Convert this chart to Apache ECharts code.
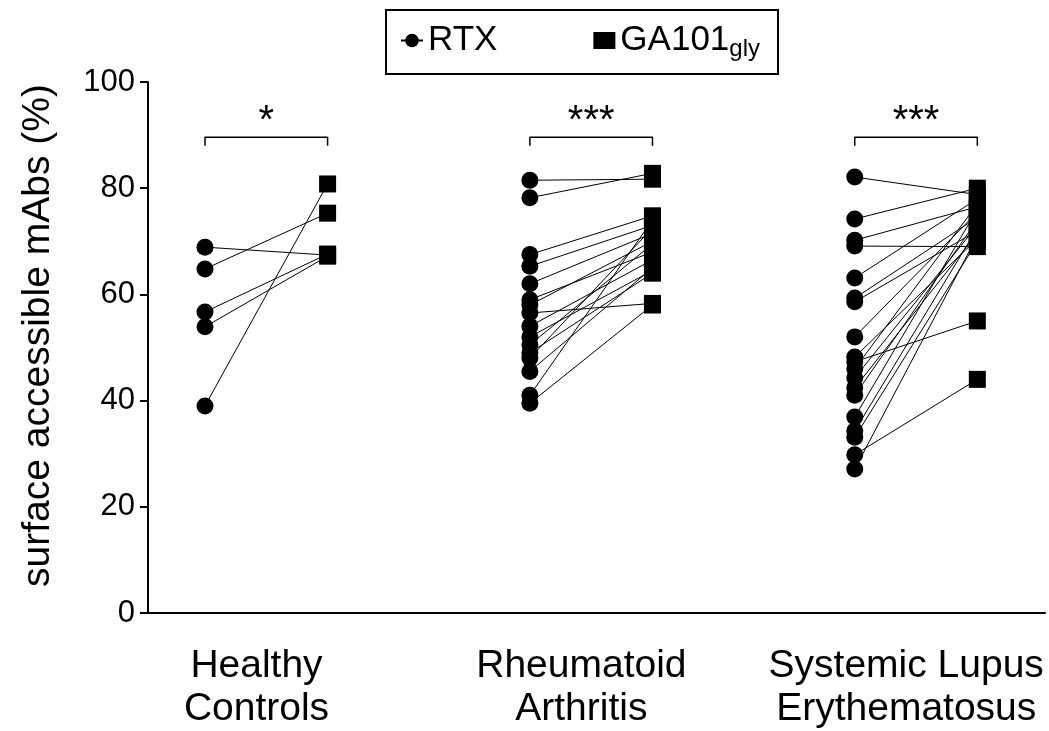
<!DOCTYPE html>
<html>
<head>
<meta charset="utf-8">
<script src="https://cdn.jsdelivr.net/npm/echarts@6/dist/echarts.min.js"></script>
<style>
  html, body { margin: 0; padding: 0; background: #fff; }
  #chart { width: 1049px; height: 731px; }
</style>
</head>
<body>
<div id="chart"></div>
<script>
// groups on the x axis
const groups = ['Healthy\nControls', 'Rheumatoid\nArthritis', 'Systemic Lupus\nErythematosus'];
const significance = ['*', '***', '***'];

// paired values per donor (% surface accessible mAbs)
const hcRTX = [68.9, 64.8, 56.7, 53.9, 39.0];
const hcGA = [67.4, 75.3, 67.6, 67.2, 80.8];

const raRTX = [81.5, 78.2, 67.5, 65.3, 62.0, 59.0, 58.0, 56.5, 54.0, 52.0, 50.5, 49.0, 48.0, 45.5, 41.0, 39.5];
const raGA = [81.7, 82.8, 74.8, 73.0, 71.5, 68.0, 70.0, 58.3, 66.5, 64.5, 69.5, 64.0, 72.5, 65.0, 74.0, 58.0];

const sleRTX = [82.1, 74.2, 70.2, 69.1, 63.1, 59.3, 58.6, 52.0, 48.2, 47.3, 46.0, 44.3, 42.4, 41.0, 36.9, 34.3, 33.1, 29.8, 27.1];
const sleGA = [78.8, 80.0, 76.5, 69.0, 78.0, 74.5, 72.0, 75.5, 70.5, 55.0, 77.0, 73.0, 71.5, 74.0, 76.0, 72.5, 70.0, 44.0, 71.0];

// bracket height (y) for the significance marks
const bracketTop = 89.6;
const bracketFoot = 88.0;

// layout: x position of RTX column per group (GA101 sits one unit right)
const groupX = [0, 2.65, 5.3];
const labelShift = 0.42;

const rtxList = [hcRTX, raRTX, sleRTX];
const gaList = [hcGA, raGA, sleGA];

const pairData = [];
const gaPoints = [];
rtxList.forEach((rtx, g) => {
  rtx.forEach((v, i) => {
    pairData.push({ value: [groupX[g], v] });
    pairData.push({ value: [groupX[g] + 1, gaList[g][i]], symbol: 'none' });
    pairData.push('-');
    gaPoints.push([groupX[g] + 1, gaList[g][i]]);
  });
});

const bracketData = [];
const starData = [];
groupX.forEach((x, g) => {
  bracketData.push([x, bracketFoot], [x, bracketTop], [x + 1, bracketTop], [x + 1, bracketFoot], '-');
  starData.push({ value: [x + 0.5, bracketTop], label: { formatter: significance[g] } });
});

const font = '"Liberation Sans", Arial, Helvetica, sans-serif';
const chart = echarts.init(document.getElementById('chart'));

chart.setOption({
  animation: false,
  textStyle: { fontFamily: font, color: '#000' },
  grid: { left: 148, right: 4, top: 82, bottom: 118, outerBoundsMode: 'none' },
  legend: {
    data: ['RTX', 'GA101gly'],
    left: 386,
    top: 10,
    padding: [13, 18, 13, 14],
    itemGap: 96,
    itemWidth: 22,
    itemHeight: 17,
    borderColor: '#000',
    borderWidth: 2,
    formatter: name => name === 'RTX' ? '{n|RTX}' : '{n|GA101}{s|gly}',
    textStyle: {
      rich: {
        n: { fontSize: 35, fontFamily: font, color: '#000' },
        s: { fontSize: 24, fontFamily: font, color: '#000', padding: [17, 0, 0, 0] }
      }
    }
  },
  xAxis: {
    type: 'value',
    min: -0.465,
    max: 6.852,
    splitLine: { show: false },
    axisTick: { show: false },
    axisLine: { lineStyle: { color: '#000', width: 2 } },
    axisLabel: {
      customValues: groupX.map(x => x + labelShift),
      formatter: v => groups[groupX.findIndex(x => Math.abs(x + labelShift - v) < 0.01)],
      fontSize: 39,
      lineHeight: 43,
      color: '#000',
      margin: 32,
      hideOverlap: false
    }
  },
  yAxis: {
    type: 'value',
    min: 0,
    max: 100,
    interval: 20,
    name: 'surface accessible mAbs (%)',
    nameLocation: 'middle',
    nameGap: 90,
    nameTextStyle: { fontSize: 39, color: '#000', padding: [0, 0, 0, 24] },
    splitLine: { show: false },
    axisLine: { show: true, onZero: false, lineStyle: { color: '#000', width: 2 } },
    axisTick: { show: true, length: 8, lineStyle: { color: '#000', width: 2 } },
    axisLabel: { fontSize: 31, color: '#000', margin: 13 }
  },
  series: [
    {
      name: 'RTX',
      type: 'line',
      data: pairData,
      symbol: 'circle',
      symbolSize: 17,
      showAllSymbol: true,
      connectNulls: false,
      lineStyle: { color: '#000', width: 1 },
      itemStyle: { color: '#000', opacity: 1 },
      z: 2
    },
    {
      name: 'GA101gly',
      type: 'scatter',
      data: gaPoints,
      symbol: 'rect',
      symbolSize: 17,
      itemStyle: { color: '#000', opacity: 1 },
      z: 3
    },
    {
      name: 'bracket',
      type: 'line',
      data: bracketData,
      symbol: 'none',
      silent: true,
      lineStyle: { color: '#000', width: 1.5 },
      z: 1
    },
    {
      name: 'stars',
      type: 'scatter',
      data: starData,
      symbolSize: 0,
      silent: true,
      itemStyle: { opacity: 1 },
      label: { show: true, position: 'top', distance: -5, fontSize: 40, color: '#000', opacity: 1, fontFamily: font }
    }
  ]
});
</script>
</body>
</html>
